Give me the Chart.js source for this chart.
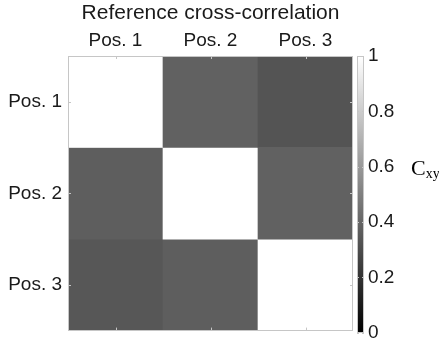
<!DOCTYPE html>
<html>
<head>
<meta charset="utf-8">
<script src="https://cdn.jsdelivr.net/npm/chart.js@4"></script>
<style>
    body { margin: 0; background: #fff; }
    #wrap { position: relative; width: 439px; height: 348px; overflow: hidden; }
    #wrap canvas { position: absolute; left: 0; top: 0; }
    #cxy { position: absolute; left: 411px; top: 155px; font-family: "Liberation Serif", "DejaVu Serif", serif; font-size: 22px; color: #000; white-space: nowrap; }
    #cxy sub { font-size: 14px; vertical-align: -3px; }
</style>
</head>
<body>
<div id="wrap">
    <canvas id="matrix" width="439" height="348"></canvas>
    <canvas id="cbar" width="439" height="348"></canvas>
    <div id="cxy">C<sub>xy</sub></div>
</div>
<script>
// Matrice de corrélation croisée
const positions = ['Pos. 1', 'Pos. 2', 'Pos. 3'];
const row1 = [1.00, 0.38, 0.33];
const row2 = [0.37, 1.00, 0.38];
const row3 = [0.34, 0.37, 1.00];
const rows = [row1, row2, row3];
const cbarRange = [0, 1];
const cbarStep = 0.2;

const FONT = '"Liberation Sans", Arial, sans-serif';
const TEXT = '#1a1a1a';
const FRAME = '#c6c6c6';

// colormap gris : 0 -> noir, 1 -> blanc
function gray(v) {
    const g = Math.round(255 * v);
    return `rgb(${g},${g},${g})`;
}

// cadre gris clair + petites graduations vers l'intérieur (style MATLAB)
const frame = {
    id: 'frame',
    afterDatasetsDraw(chart, args, opts) {
        const a = chart.chartArea;
        const ctx = chart.ctx;
        const len = opts.len || 3;
        ctx.save();
        ctx.strokeStyle = FRAME;
        ctx.lineWidth = 1;
        ctx.beginPath();
        const x = chart.scales.x;
        if (x && x.options.display !== false) {
            x.ticks.forEach((t, i) => {
                const px = Math.round(x.getPixelForTick(i)) + 0.5;
                ctx.moveTo(px, a.top); ctx.lineTo(px, a.top + len);
                ctx.moveTo(px, a.bottom); ctx.lineTo(px, a.bottom - len);
            });
        }
        const y = chart.scales.y;
        y.ticks.forEach(t => {
            const py = Math.round(y.getPixelForValue(t.value)) + 0.5;
            ctx.moveTo(a.left, py); ctx.lineTo(a.left + len, py);
            ctx.moveTo(a.right, py); ctx.lineTo(a.right - len, py);
        });
        ctx.stroke();
        ctx.strokeRect(Math.round(a.left) + 0.5, Math.round(a.top) + 0.5,
            Math.round(a.right - a.left) - 1, Math.round(a.bottom - a.top) - 1);
        ctx.restore();
    }
};

new Chart(document.getElementById('matrix'), {
    type: 'bar',
    data: {
        labels: positions,
        datasets: rows.map((row, i) => ({
            label: positions[i],
            data: row.map(() => [i, i + 1]),
            backgroundColor: row.map(gray),
            borderWidth: 0
        }))
    },
    options: {
        responsive: false,
        animation: false,
        datasets: { bar: { grouped: false, barPercentage: 1, categoryPercentage: 1 } },
        layout: { padding: { left: 0, right: 86, top: 0, bottom: 9 } },
        plugins: {
            legend: { display: false },
            tooltip: { enabled: false },
            frame: { len: 3 }
        },
        scales: {
            x: {
                position: 'top',
                grid: { display: false, drawTicks: false },
                border: { display: false },
                title: {
                    display: true,
                    text: 'Reference cross-correlation',
                    color: TEXT,
                    font: { family: FONT, size: 21 },
                    padding: { top: 1, bottom: 0 }
                },
                ticks: { color: TEXT, font: { family: FONT, size: 19 }, padding: 4, maxRotation: 0 },
                afterFit: s => { s.height = 56; }
            },
            y: {
                min: 0,
                max: 3,
                reverse: true,
                grid: { display: false, drawTicks: false },
                border: { display: false },
                afterBuildTicks: s => { s.ticks = positions.map((p, i) => ({ value: i + 0.5 })); },
                ticks: {
                    color: TEXT,
                    font: { family: FONT, size: 19 },
                    padding: 6,
                    callback: (v, i) => positions[i]
                },
                afterFit: s => { s.width = 68; }
            }
        }
    },
    plugins: [frame]
});

// Barre de couleur
new Chart(document.getElementById('cbar'), {
    type: 'bar',
    data: {
        labels: ['c'],
        datasets: [{
            data: [cbarRange],
            borderWidth: 0,
            backgroundColor: ctx => {
                const a = ctx.chart.chartArea;
                if (!a) return '#888';
                const g = ctx.chart.ctx.createLinearGradient(0, a.bottom, 0, a.top);
                g.addColorStop(0, '#000');
                g.addColorStop(1, '#fff');
                return g;
            }
        }]
    },
    options: {
        responsive: false,
        animation: false,
        datasets: { bar: { barPercentage: 1, categoryPercentage: 1 } },
        layout: { padding: { left: 357, right: 0, top: 56, bottom: 9 } },
        plugins: { legend: { display: false }, tooltip: { enabled: false }, frame: { len: 2 } },
        scales: {
            x: { display: false },
            y: {
                position: 'right',
                min: cbarRange[0],
                max: cbarRange[1],
                grid: { display: false, drawTicks: false },
                border: { display: false },
                ticks: {
                    stepSize: cbarStep,
                    color: TEXT,
                    font: { family: FONT, size: 19 },
                    padding: 4,
                    callback: v => String(+v.toFixed(1))
                },
                afterFit: s => { s.width = 75; }
            }
        }
    },
    plugins: [frame]
});
</script>
</body>
</html>
